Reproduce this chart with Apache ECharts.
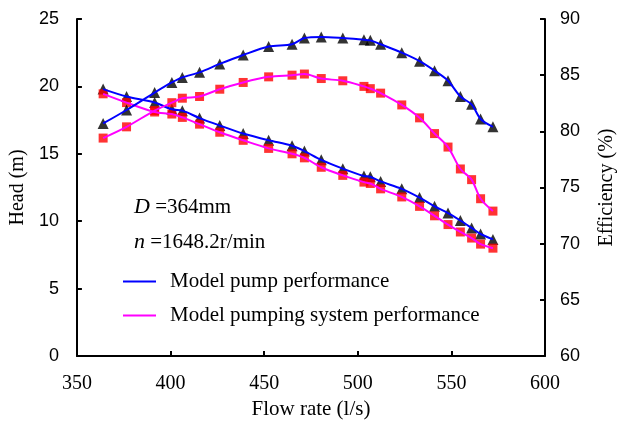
<!DOCTYPE html>
<html><head><meta charset="utf-8">
<script src="https://cdn.jsdelivr.net/npm/echarts@6/dist/echarts.min.js"></script>
<style>html,body{margin:0;padding:0;background:#fff}#c{width:625px;height:426px}</style>
</head><body><div id="c"></div>
<script>
const flow = [364, 376.5, 391.5, 400.7, 406.3, 415.5, 426.3, 438.8, 452.4, 464.9, 471.5, 480.5, 492, 503.3, 506.7, 512.2, 523.5, 533, 541, 548.2, 554.8, 560.8, 565.6, 572.2];
const pumpHead = [19.8, 19.25, 18.8, 18.3, 18.2, 17.65, 17.1, 16.5, 16.0, 15.6, 15.2, 14.55, 13.9, 13.35, 13.3, 12.95, 12.4, 11.75, 11.1, 10.6, 10.05, 9.5, 9.05, 8.65];
const systemHead = [19.45, 18.8, 18.1, 17.95, 17.7, 17.2, 16.6, 16.0, 15.4, 15.0, 14.7, 14.0, 13.4, 12.9, 12.8, 12.4, 11.8, 11.1, 10.4, 9.75, 9.2, 8.75, 8.3, 8.0];
const pumpEff = [80.7, 81.9, 83.45, 84.35, 84.8, 85.25, 86.0, 86.8, 87.55, 87.75, 88.3, 88.4, 88.3, 88.15, 88.1, 87.75, 87.0, 86.25, 85.4, 84.5, 83.1, 82.4, 81.1, 80.4];
const systemEff = [79.4, 80.4, 81.85, 82.55, 82.95, 83.1, 83.75, 84.35, 84.85, 85.0, 85.1, 84.7, 84.5, 84.0, 83.8, 83.4, 82.35, 81.2, 79.8, 78.6, 76.65, 75.7, 74.0, 72.9];
const xTicks = [350, 600, 50];
const headTicks = [0, 25, 5];
const effTicks = [60, 90, 5];
const seriesNames = ['Model pump performance', 'Model pumping system performance'];
const noteD = '=364mm';
const noteN = '=1648.2r/min';

const pair = (ys) => flow.map((x, i) => [x, ys[i]]);
const serif = 'Liberation Serif';
const sans = 'Liberation Sans';
const BLUE = '#0000FF', MAG = '#FF00FF';

const chart = echarts.init(document.getElementById('c'), null, {renderer: 'canvas'});
const axisLine = {show: true, lineStyle: {color: '#000', width: 2}};
const tick = {show: true, inside: true, length: 5, lineStyle: {color: '#000', width: 2}};
const italic = {i: {fontFamily: serif, fontStyle: 'italic', fontSize: 22, fill: '#000'}};
chart.setOption({
  animation: false,
  backgroundColor: '#fff',
  grid: {left: 72, right: 73, top: 19, bottom: 70},
  legend: {
    orient: 'vertical', left: 118, top: 266, itemGap: 13,
    itemWidth: 33, itemHeight: 2,
    icon: 'rect',
    data: seriesNames,
    textStyle: {fontFamily: serif, fontSize: 21, color: '#000', padding: [0, 0, 0, 9]}
  },
  graphic: [
    {type: 'text', left: 134, top: 196, style: {text: '{i|D} ' + noteD, rich: italic, fontFamily: serif, fontSize: 21, fill: '#000'}},
    {type: 'text', left: 134, top: 231, style: {text: '{i|n} ' + noteN, rich: italic, fontFamily: serif, fontSize: 21, fill: '#000'}}
  ],
  xAxis: {
    type: 'value', min: xTicks[0], max: xTicks[1], interval: xTicks[2],
    name: 'Flow rate (l/s)', nameLocation: 'middle', nameGap: 43,
    nameTextStyle: {fontFamily: serif, fontSize: 21, color: '#000'},
    axisLine, axisTick: tick, splitLine: {show: false},
    axisLabel: {fontFamily: serif, fontSize: 20, color: '#000', margin: 18}
  },
  yAxis: [
    {type: 'value', min: headTicks[0], max: headTicks[1], interval: headTicks[2],
     name: 'Head (m)', nameLocation: 'middle', nameRotate: 90, nameGap: 46,
     nameTextStyle: {fontFamily: serif, fontSize: 20, color: '#000'},
     axisLine, axisTick: tick, splitLine: {show: false},
     axisLabel: {fontFamily: sans, fontSize: 18, color: '#000', margin: 18}},
    {type: 'value', min: effTicks[0], max: effTicks[1], interval: effTicks[2], position: 'right',
     name: 'Efficiency (%)', nameLocation: 'middle', nameRotate: 90, nameGap: 52,
     nameTextStyle: {fontFamily: serif, fontSize: 20, color: '#000'},
     axisLine, axisTick: tick, splitLine: {show: false},
     axisLabel: {fontFamily: sans, fontSize: 18, color: '#000', margin: 15}}
  ],
  series: [
    {type: 'scatter', yAxisIndex: 0, data: pair(pumpHead), symbol: 'triangle', symbolSize: 11, itemStyle: {color: '#000'}, z: 2},
    {type: 'scatter', yAxisIndex: 0, data: pair(systemHead), symbol: 'rect', symbolSize: 9, itemStyle: {color: '#FF0000'}, z: 2},
    {type: 'scatter', yAxisIndex: 1, data: pair(pumpEff), symbol: 'triangle', symbolSize: 11, itemStyle: {color: '#000'}, z: 2},
    {type: 'scatter', yAxisIndex: 1, data: pair(systemEff), symbol: 'rect', symbolSize: 9, itemStyle: {color: '#FF0000'}, z: 2},
    {name: seriesNames[0], type: 'line', yAxisIndex: 0, data: pair(pumpHead), smooth: 0.3, symbol: 'none', lineStyle: {color: BLUE, width: 2}, itemStyle: {color: BLUE}, z: 3},
    {name: seriesNames[1], type: 'line', yAxisIndex: 0, data: pair(systemHead), smooth: 0.3, symbol: 'none', lineStyle: {color: MAG, width: 2}, itemStyle: {color: MAG}, z: 3},
    {name: seriesNames[0], type: 'line', yAxisIndex: 1, data: pair(pumpEff), smooth: 0.3, symbol: 'none', lineStyle: {color: BLUE, width: 2}, itemStyle: {color: BLUE}, z: 3},
    {name: seriesNames[1], type: 'line', yAxisIndex: 1, data: pair(systemEff), smooth: 0.3, symbol: 'none', lineStyle: {color: MAG, width: 2}, itemStyle: {color: MAG}, z: 3}
  ]
});
</script></body></html>
